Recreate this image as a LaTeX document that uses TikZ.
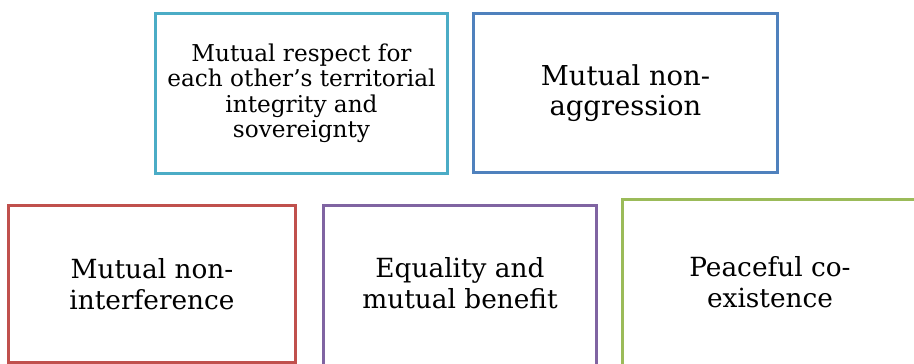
\documentclass[tikz,border=0pt]{standalone}
\usepackage{fontspec}
\setmainfont{DejaVu Serif}
\usepackage{tikz}

\definecolor{tealbox}{HTML}{4BACC6}
\definecolor{bluebox}{HTML}{4F81BD}
\definecolor{redbox}{HTML}{C0504D}
\definecolor{purplebox}{HTML}{8064A2}
\definecolor{greenbox}{HTML}{9BBB59}

\tikzset{
	principle/.style={draw, line width=1.7pt, fill=white, align=center, inner sep=0pt,
		font=\fontsize{15}{17.5}\selectfont, text=black},
	longtext/.style={font=\fontsize{13.2}{14.5}\selectfont}
}

\begin{document}
\begin{tikzpicture}[x=0.02cm,y=-0.02cm]
		\useasboundingbox (0,0) rectangle (914,364);
		\clip (0,0) rectangle (914,364);
		\begin{scope}
			\node[principle, longtext, draw=tealbox, minimum width=5.86cm, minimum height=3.22cm] (respect) at (301.5,93.5)
				{Mutual respect for\\each other’s territorial\\integrity and\\sovereignty};
			\node[principle, draw=bluebox, font=\fontsize{15.6}{17}\selectfont, minimum width=6.1cm, minimum height=3.2cm] (aggression) at (625.5,93)
				{Mutual non-\\aggression};
		
			\node[principle, draw=redbox, minimum width=5.76cm, minimum height=3.16cm] (interference) at (152,284)
				{Mutual non-\\interference};
			\node[principle, draw=purplebox, minimum width=5.48cm, minimum height=3.3cm] (equality) at (460,287.5)
				{Equality and\\mutual benefit\\[-12pt]};
			\node[principle, draw=greenbox, minimum width=5.9cm, minimum height=3.5cm] (coexistence) at (770,287)
				{Peaceful co-\\existence\\[-12pt]};
		\end{scope}
	\end{tikzpicture}
\end{document}
